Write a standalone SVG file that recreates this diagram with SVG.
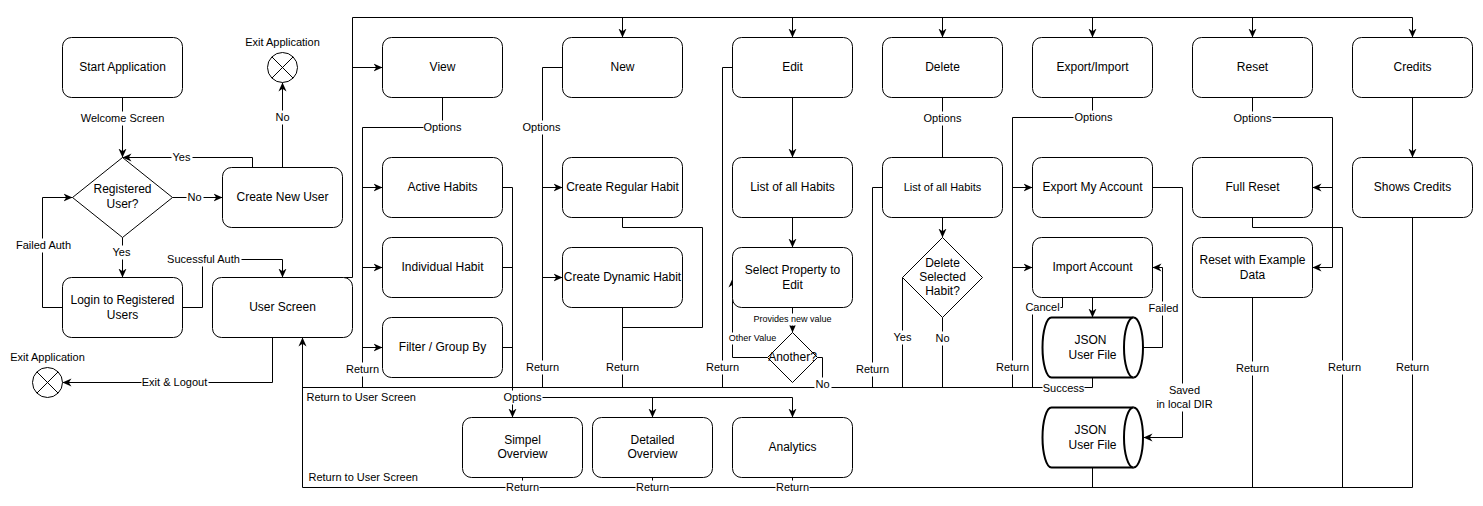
<svg xmlns="http://www.w3.org/2000/svg" width="1483" height="506" viewBox="0 0 1483 506">
  <style>
    .box { fill: #ffffff; stroke: #000000; stroke-width: 1; }
    .cyl { fill: #ffffff; stroke: #000000; stroke-width: 2; }
    .t { font-family: "Liberation Sans", Arial, Helvetica, sans-serif; font-size: 12px; fill: #000000; text-anchor: middle; dominant-baseline: central; transform: translateY(-1px); }
    .s { font-size: 11px; }
    .xs { font-size: 9px; }
    .e { fill: none; stroke: #000000; stroke-width: 1; }
    .a { marker-end: url(#arr); }
    .bg { fill: #ffffff; stroke: none; }
  </style>
  <defs>
    <marker id="arr" viewBox="0 0 10 10" refX="10" refY="5" markerWidth="9" markerHeight="9" markerUnits="userSpaceOnUse" orient="auto">
      <path d="M0,0.5 L10,5 L0,9.5 L3,5 Z" fill="#000000"/>
    </marker>
  </defs>
  <rect x="0" y="0" width="1483" height="506" fill="#ffffff"/>
  <g transform="translate(0.5,0.5)">
    <!-- connectors -->
    <g id="connectors">
      <path class="e a" d="M122,97 V157"/>
      <path class="e a" d="M252,167 V157 H122"/>
      <path class="e a" d="M282,167 V82"/>
      <path class="e a" d="M172,197 H222"/>
      <path class="e a" d="M122,237 V277"/>
      <path class="e a" d="M62,307 H42 V197 H72"/>
      <path class="e a" d="M182,307 H202 V259 H282 V277"/>
      <path class="e a" d="M272,337 V382 H62"/>
      <!-- main menu bus -->
      <path class="e a" d="M343,277 H352 V17 H1412 V37"/>
      <path class="e a" d="M352,67 H382"/>
      <path class="e a" d="M622,17 V37"/>
      <path class="e a" d="M792,17 V37"/>
      <path class="e a" d="M942,17 V37"/>
      <path class="e a" d="M1092,17 V37"/>
      <path class="e a" d="M1252,17 V37"/>
      <!-- view -->
      <path class="e" d="M442,97 V127 H362 V387"/>
      <path class="e a" d="M362,187 H382"/>
      <path class="e a" d="M362,267 H382"/>
      <path class="e a" d="M362,347 H382"/>
      <path class="e a" d="M502,187 H512 V417"/>
      <path class="e" d="M502,267 H512"/>
      <path class="e" d="M502,347 H512"/>
      <path class="e a" d="M512,397 H792 V417"/>
      <path class="e a" d="M652,397 V417"/>
      <!-- new -->
      <path class="e" d="M562,67 H542 V387"/>
      <path class="e a" d="M542,187 H562"/>
      <path class="e a" d="M542,277 H562"/>
      <path class="e" d="M622,217 V227 H702 V327 H622"/>
      <path class="e" d="M622,307 V387"/>
      <!-- edit -->
      <path class="e" d="M732,67 H722 V387"/>
      <path class="e a" d="M792,97 V157"/>
      <path class="e a" d="M792,217 V247"/>
      <path class="e a" d="M792,307 V332"/>
      <path class="e a" d="M767,357 H732 V278"/>
      <path class="e" d="M817,357 H822 V387"/>
      <!-- delete -->
      <path class="e" d="M942,97 V157"/>
      <path class="e a" d="M942,217 V237"/>
      <path class="e" d="M882,187 H872 V387"/>
      <path class="e" d="M902,277 V387"/>
      <path class="e" d="M942,317 V387"/>
      <!-- export / import -->
      <path class="e" d="M1092,97 V117 H1012 V387"/>
      <path class="e a" d="M1012,187 H1032"/>
      <path class="e a" d="M1012,267 H1032"/>
      <path class="e a" d="M1152,187 H1182 V437 H1143"/>
      <path class="e a" d="M1092,297 V317"/>
      <path class="e a" d="M1143,347 H1162 V267 H1152"/>
      <path class="e" d="M1062,297 V307 H1032 V387"/>
      <!-- return buses -->
      <path class="e" d="M1092,377 V387 H302"/>
      <path class="e a" d="M302,487 V337"/>
      <path class="e" d="M302,487 H1412 V217"/>
      <path class="e" d="M522,477 V487"/>
      <path class="e" d="M652,477 V487"/>
      <path class="e" d="M792,477 V487"/>
      <path class="e" d="M1092,467 V487"/>
      <!-- reset -->
      <path class="e a" d="M1252,97 V117 H1332 V267 H1312"/>
      <path class="e a" d="M1332,187 H1312"/>
      <path class="e" d="M1252,297 V487"/>
      <path class="e" d="M1252,217 V227 H1342 V487"/>
      <!-- credits -->
      <path class="e a" d="M1412,97 V157"/>
    </g>

    <!-- connector labels -->
    <g id="edge-labels">
      <rect class="bg" x="80" y="111" width="85" height="14"/><text class="t s" x="122" y="118">Welcome Screen</text>
      <rect class="bg" x="171" y="150" width="21" height="14"/><text class="t s" x="181" y="157">Yes</text>
      <rect class="bg" x="274" y="110" width="16" height="14"/><text class="t s" x="282" y="117">No</text>
      <rect class="bg" x="186" y="190" width="17" height="14"/><text class="t s" x="194" y="197">No</text>
      <rect class="bg" x="111" y="245" width="21" height="14"/><text class="t s" x="121" y="252">Yes</text>
      <rect class="bg" x="14" y="238" width="58" height="14"/><text class="t s" x="43" y="245">Failed Auth</text>
      <rect class="bg" x="166" y="252" width="75" height="14"/><text class="t s" x="203" y="259">Sucessful Auth</text>
      <rect class="bg" x="141" y="375" width="67" height="14"/><text class="t s" x="174" y="382">Exit &amp; Logout</text>
      <rect class="bg" x="423" y="120" width="39" height="14"/><text class="t s" x="442" y="127">Options</text>
      <rect class="bg" x="522" y="120" width="39" height="14"/><text class="t s" x="541" y="127">Options</text>
      <rect class="bg" x="345" y="362" width="34" height="14"/><text class="t s" x="362" y="369">Return</text>
      <rect class="bg" x="503" y="390" width="39" height="14"/><text class="t s" x="522" y="397">Options</text>
      <rect class="bg" x="525" y="360" width="34" height="14"/><text class="t s" x="542" y="367">Return</text>
      <rect class="bg" x="605" y="360" width="34" height="14"/><text class="t s" x="622" y="367">Return</text>
      <rect class="bg" x="705" y="360" width="34" height="14"/><text class="t s" x="722" y="367">Return</text>
      <rect class="bg" x="753" y="313" width="78" height="12"/><text class="t xs" x="792" y="319">Provides new value</text>
      <rect class="bg" x="728" y="332" width="48" height="12"/><text class="t xs" x="752" y="338">Other Value</text>
      <rect class="bg" x="814" y="377" width="17" height="14"/><text class="t s" x="822" y="384">No</text>
      <rect class="bg" x="923" y="111" width="39" height="14"/><text class="t s" x="942" y="118">Options</text>
      <rect class="bg" x="855" y="362" width="34" height="14"/><text class="t s" x="872" y="369">Return</text>
      <rect class="bg" x="892" y="330" width="21" height="14"/><text class="t s" x="902" y="337">Yes</text>
      <rect class="bg" x="934" y="331" width="17" height="14"/><text class="t s" x="942" y="338">No</text>
      <rect class="bg" x="1073" y="110" width="39" height="14"/><text class="t s" x="1093" y="117">Options</text>
      <rect class="bg" x="995" y="360" width="34" height="14"/><text class="t s" x="1012" y="367">Return</text>
      <rect class="bg" x="1025" y="300" width="35" height="14"/><text class="t s" x="1042" y="307">Cancel</text>
      <rect class="bg" x="1147" y="301" width="33" height="14"/><text class="t s" x="1163" y="308">Failed</text>
      <rect class="bg" x="1042" y="381" width="42" height="14"/><text class="t s" x="1063" y="388">Success</text>
      <rect class="bg" x="1155" y="383" width="58" height="28"/>
      <text class="t s" x="1184" y="390">Saved</text>
      <text class="t s" x="1184" y="404">in local DIR</text>
      <rect class="bg" x="1233" y="111" width="39" height="14"/><text class="t s" x="1252" y="118">Options</text>
      <rect class="bg" x="1235" y="361" width="34" height="14"/><text class="t s" x="1252" y="368">Return</text>
      <rect class="bg" x="1327" y="360" width="34" height="14"/><text class="t s" x="1344" y="367">Return</text>
      <rect class="bg" x="1395" y="360" width="34" height="14"/><text class="t s" x="1412" y="367">Return</text>
      <rect class="bg" x="505" y="480" width="34" height="14"/><text class="t s" x="522" y="487">Return</text>
      <rect class="bg" x="635" y="480" width="34" height="14"/><text class="t s" x="652" y="487">Return</text>
      <rect class="bg" x="775" y="480" width="34" height="14"/><text class="t s" x="792" y="487">Return</text>
      <text class="t s" x="306" y="397" style="text-anchor:start">Return to User Screen</text>
      <text class="t s" x="308" y="477" style="text-anchor:start">Return to User Screen</text>
    </g>

    <!-- login flow -->
    <g id="start-application">
      <rect class="box" x="62" y="37" width="120" height="60" rx="9"/>
      <text class="t" x="122" y="67">Start Application</text>
    </g>
    <g id="registered-user">
      <path class="box" d="M122,157 L172,197 L122,237 L72,197 Z"/>
      <text class="t" x="122" y="189">Registered</text>
      <text class="t" x="122" y="204">User?</text>
    </g>
    <g id="create-new-user">
      <rect class="box" x="222" y="167" width="120" height="60" rx="9"/>
      <text class="t" x="282" y="197">Create New User</text>
    </g>
    <g id="exit-top">
      <circle class="box" cx="282" cy="67" r="15"/>
      <path class="e" d="M271.4,56.4 L292.6,77.6 M292.6,56.4 L271.4,77.6"/>
      <text class="t s" x="282" y="42">Exit Application</text>
    </g>
    <g id="login">
      <rect class="box" x="62" y="277" width="120" height="60" rx="9"/>
      <text class="t" x="122" y="300">Login to Registered</text>
      <text class="t" x="122" y="315">Users</text>
    </g>
    <g id="user-screen">
      <rect class="box" x="212" y="277" width="140" height="60" rx="9"/>
      <text class="t" x="282" y="307">User Screen</text>
    </g>
    <g id="exit-bottom">
      <circle class="box" cx="47" cy="382" r="15"/>
      <path class="e" d="M36.4,371.4 L57.6,392.6 M57.6,371.4 L36.4,392.6"/>
      <text class="t s" x="47" y="357">Exit Application</text>
    </g>

    <!-- view -->
    <g id="view">
      <rect class="box" x="382" y="37" width="120" height="60" rx="9"/>
      <text class="t" x="442" y="67">View</text>
    </g>
    <g id="active-habits">
      <rect class="box" x="382" y="157" width="120" height="60" rx="9"/>
      <text class="t" x="442" y="187">Active Habits</text>
    </g>
    <g id="individual-habit">
      <rect class="box" x="382" y="237" width="120" height="60" rx="9"/>
      <text class="t" x="442" y="267">Individual Habit</text>
    </g>
    <g id="filter-group">
      <rect class="box" x="382" y="317" width="120" height="60" rx="9"/>
      <text class="t" x="442" y="347">Filter / Group By</text>
    </g>
    <g id="simpel-overview">
      <rect class="box" x="462" y="417" width="120" height="60" rx="9"/>
      <text class="t" x="522" y="440">Simpel</text>
      <text class="t" x="522" y="454">Overview</text>
    </g>
    <g id="detailed-overview">
      <rect class="box" x="592" y="417" width="120" height="60" rx="9"/>
      <text class="t" x="652" y="440">Detailed</text>
      <text class="t" x="652" y="454">Overview</text>
    </g>
    <g id="analytics">
      <rect class="box" x="732" y="417" width="120" height="60" rx="9"/>
      <text class="t" x="792" y="447">Analytics</text>
    </g>

    <!-- new -->
    <g id="new">
      <rect class="box" x="562" y="37" width="120" height="60" rx="9"/>
      <text class="t" x="622" y="67">New</text>
    </g>
    <g id="create-regular-habit">
      <rect class="box" x="562" y="157" width="120" height="60" rx="9"/>
      <text class="t" x="622" y="187">Create Regular Habit</text>
    </g>
    <g id="create-dynamic-habit">
      <rect class="box" x="562" y="247" width="120" height="60" rx="9"/>
      <text class="t" x="622" y="277">Create Dynamic Habit</text>
    </g>

    <!-- edit -->
    <g id="edit">
      <rect class="box" x="732" y="37" width="120" height="60" rx="9"/>
      <text class="t" x="792" y="67">Edit</text>
    </g>
    <g id="edit-list">
      <rect class="box" x="732" y="157" width="120" height="60" rx="9"/>
      <text class="t" x="792" y="187">List of all Habits</text>
    </g>
    <g id="select-property">
      <rect class="box" x="732" y="247" width="120" height="60" rx="9"/>
      <text class="t" x="792" y="270">Select Property to</text>
      <text class="t" x="792" y="285">Edit</text>
    </g>
    <g id="another">
      <path class="box" d="M792,332 L817,357 L792,382 L767,357 Z"/>
      <text class="t" x="792" y="357">Another?</text>
    </g>

    <!-- delete -->
    <g id="delete">
      <rect class="box" x="882" y="37" width="120" height="60" rx="9"/>
      <text class="t" x="942" y="67">Delete</text>
    </g>
    <g id="delete-list">
      <rect class="box" x="882" y="157" width="120" height="60" rx="9"/>
      <text class="t s" x="942" y="187">List of all Habits</text>
    </g>
    <g id="delete-selected">
      <path class="box" d="M942,237 L982,277 L942,317 L902,277 Z"/>
      <text class="t" x="942" y="263">Delete</text>
      <text class="t" x="942" y="277">Selected</text>
      <text class="t" x="942" y="291">Habit?</text>
    </g>

    <!-- export / import -->
    <g id="export-import">
      <rect class="box" x="1032" y="37" width="120" height="60" rx="9"/>
      <text class="t" x="1092" y="67">Export/Import</text>
    </g>
    <g id="export-account">
      <rect class="box" x="1032" y="157" width="120" height="60" rx="9"/>
      <text class="t" x="1092" y="187">Export My Account</text>
    </g>
    <g id="import-account">
      <rect class="box" x="1032" y="237" width="120" height="60" rx="9"/>
      <text class="t" x="1092" y="267">Import Account</text>
    </g>
    <g id="json-import">
      <path class="cyl" d="M1051,317 H1133 A9.5,30 0 0 1 1133,377 H1051 A9,30 0 0 1 1051,317 Z"/>
      <path class="cyl" d="M1133,317 A9.5,30 0 0 0 1133,377" fill="none"/>
      <text class="t" x="1090" y="340">JSON</text>
      <text class="t" x="1092" y="355">User File</text>
    </g>
    <g id="json-export">
      <path class="cyl" d="M1051,407 H1133 A9.5,30 0 0 1 1133,467 H1051 A9,30 0 0 1 1051,407 Z"/>
      <path class="cyl" d="M1133,407 A9.5,30 0 0 0 1133,467" fill="none"/>
      <text class="t" x="1090" y="430">JSON</text>
      <text class="t" x="1092" y="445">User File</text>
    </g>

    <!-- reset -->
    <g id="reset">
      <rect class="box" x="1192" y="37" width="120" height="60" rx="9"/>
      <text class="t" x="1252" y="67">Reset</text>
    </g>
    <g id="full-reset">
      <rect class="box" x="1192" y="157" width="120" height="60" rx="9"/>
      <text class="t" x="1252" y="187">Full Reset</text>
    </g>
    <g id="reset-example">
      <rect class="box" x="1192" y="237" width="120" height="60" rx="9"/>
      <text class="t" x="1252" y="260">Reset with Example</text>
      <text class="t" x="1252" y="275">Data</text>
    </g>

    <!-- credits -->
    <g id="credits">
      <rect class="box" x="1352" y="37" width="120" height="60" rx="9"/>
      <text class="t" x="1412" y="67">Credits</text>
    </g>
    <g id="shows-credits">
      <rect class="box" x="1352" y="157" width="120" height="60" rx="9"/>
      <text class="t" x="1412" y="187">Shows Credits</text>
    </g>
  </g>
</svg>
